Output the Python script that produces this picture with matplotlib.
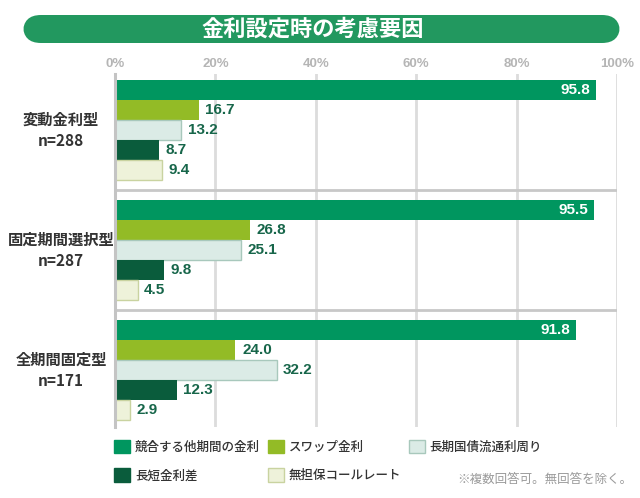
import matplotlib.pyplot as plt
from matplotlib.patches import FancyBboxPatch, Patch
from matplotlib.transforms import blended_transform_factory

plt.rcParams['font.family'] = ['Noto Sans CJK JP', 'DejaVu Sans']

# data
groups = ['変動金利型\nn=288', '固定期間選択型\nn=287', '全期間固定型\nn=171']
series = ['競合する他期間の金利', 'スワップ金利', '長期国債流通利周り', '長短金利差', '無担保コールレート']
values = [
    [95.8, 16.7, 13.2, 8.7, 9.4],
    [95.5, 26.8, 25.1, 9.8, 4.5],
    [91.8, 24.0, 32.2, 12.3, 2.9],
]
ticks = [0, 20, 40, 60, 80, 100]
tick_labels = ['0%', '20%', '40%', '60%', '80%', '100%']

colors = ['#00965f', '#93bb26', '#dbebe6', '#0a5c3c', '#eef2da']
edges = ['#00965f', '#93bb26', '#a8c8bc', '#0a5c3c', '#c9d3a0']
val_color = '#17664a'
num_font = ['Liberation Sans', 'DejaVu Sans']

W, H = 640, 498
fig = plt.figure(figsize=(W / 100, H / 100), dpi=100, facecolor='white')

# title pill
fig.patches.append(FancyBboxPatch((23 / W, (H - 43) / H), 597 / W, 28 / H,
                                  boxstyle='round,pad=0,rounding_size=0.028',
                                  transform=fig.transFigure, facecolor='#22985f',
                                  edgecolor='none', mutation_aspect=W / H))
fig.text(313 / W, (H - 29) / H, '金利設定時の考慮要因', color='white', fontsize=16,
         fontweight='bold', ha='center', va='center')

ax = fig.add_axes([115 / W, (H - 427) / H, 502 / W, 353 / H])
ax.set_xlim(0, 100)
ax.set_ylim(16.85, -0.8)

for g, vals in enumerate(values):
    for i, v in enumerate(vals):
        y = g * 6 + i
        ax.barh(y, v, height=1.0, color=colors[i], edgecolor=edges[i],
                linewidth=1.0 if i in (2, 4) else 0, zorder=3)
        if i == 0:
            ax.text(v - 1.2, y, f'{v:.1f}', color='white', fontsize=11, fontweight='bold',
                    family=num_font, ha='right', va='center', zorder=4)
        else:
            ax.text(v + 1.3, y, f'{v:.1f}', color=val_color, fontsize=11, fontweight='bold',
                    family=num_font, ha='left', va='center', zorder=4)

# group separators
for g in range(1, len(values)):
    ax.axhline(g * 6 - 1, color='#c8c8c8', lw=2, zorder=2)

# category labels
tr = blended_transform_factory(fig.transFigure, ax.transData)
for g, lab in enumerate(groups):
    ax.text(61 / W, g * 6 + 2, lab, transform=tr, ha='center', va='center',
            fontsize=11, fontweight='bold', color='#333333', linespacing=1.4)

# grid and axes
ax.set_xticks(ticks)
ax.set_xticklabels(tick_labels, family=num_font, fontweight='bold', color='#b5b5b5', fontsize=9.5)
ax.xaxis.tick_top()
ax.tick_params(axis='x', length=0, pad=3)
ax.set_yticks([])
ax.grid(True, axis='x', color='#dcdcdc', lw=2, zorder=1)
for spine in ('top', 'right', 'bottom'):
    ax.spines[spine].set_visible(False)
ax.spines['left'].set_color('#c4c4c4')
ax.spines['left'].set_linewidth(2.2)
ax.spines['left'].set_zorder(5)

# legend (row-major order for 3 columns)
handles = [Patch(facecolor=c, edgecolor=e, lw=1) for c, e in zip(colors, edges)]
order = [0, 3, 1, 4, 2]
leg = fig.legend([handles[k] for k in order], [series[k] for k in order], ncol=3,
                 loc='upper left', bbox_to_anchor=(114 / W, (H - 440) / H),
                 frameon=False, fontsize=9, handlelength=1.28, handleheight=1.28,
                 handletextpad=0.4, columnspacing=0.6, labelspacing=1.15,
                 borderpad=0, borderaxespad=0)
for t in leg.get_texts():
    t.set_color('#333333')
    t.set_fontweight('medium')

fig.text(632 / W, (H - 479) / H, '※複数回答可。無回答を除く。', color='#9a9a9a',
         fontsize=9, ha='right', va='center')

fig.savefig('out.png', dpi=100, facecolor='white')
